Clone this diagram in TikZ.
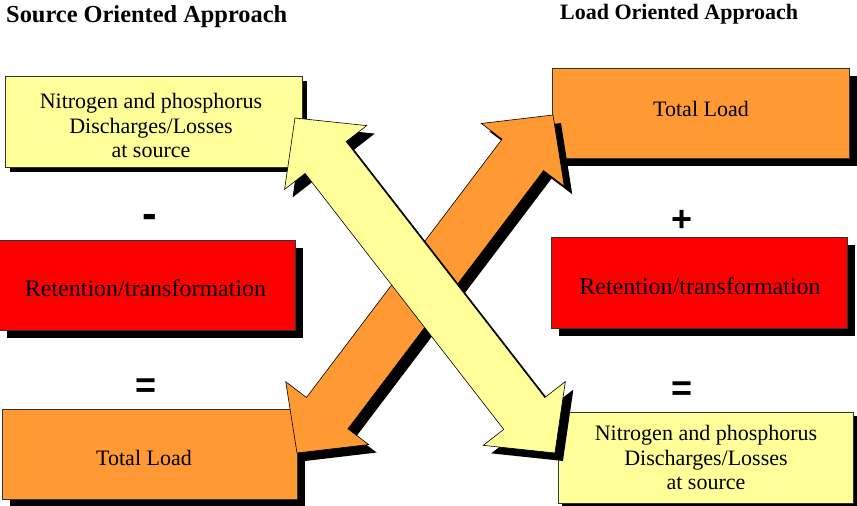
\documentclass[tikz,border=0pt]{standalone}
\usepackage{fontspec}
\setmainfont{Liberation Serif}
\newfontfamily\symfont{Liberation Sans}
\usetikzlibrary{shadows}
\definecolor{lyellow}{HTML}{FFFF99}
\definecolor{lorange}{HTML}{FF9933}
\definecolor{lred}{HTML}{FF0000}
\tikzset{
  box/.style={draw=black!80, line width=0.7pt, inner sep=0pt},
  shad/.style={drop shadow={shadow xshift=#1pt, shadow yshift=-#1pt, fill=black, opacity=1}},
  yellowbox/.style={box, fill=lyellow, shad=5},
  orangebox/.style={box, fill=lorange, shad=8},
  redbox/.style={box, fill=lred, shad=8},
  boxtext/.style={align=center, inner sep=0pt, font=\fontsize{22}{24.5}\selectfont},
  redtext/.style={boxtext, font=\fontsize{24}{27}\selectfont},
  title/.style={anchor=base west, inner sep=0pt, font=\bfseries},
  sym/.style={anchor=base, inner sep=0pt, font=\symfont\bfseries\fontsize{36}{36}\selectfont},
  arrline/.style={draw=black, line width=0.6pt}
}
\begin{document}
\begin{tikzpicture}[x=1pt,y=-1pt]
\useasboundingbox (0,0) rectangle (857,506);

% titles
\node[title, font=\bfseries\fontsize{24.4}{28}\selectfont] (t1) at (6,22) {Source Oriented Approach};
\node[title, font=\bfseries\fontsize{22}{26}\selectfont] (t2) at (560,19.5) {Load Oriented Approach};

% left column
\node[yellowbox, minimum width=297pt, minimum height=91pt] (ls) at (153.5,121.5) {};
\node[boxtext] (ls-t) at (151,125.5) {Nitrogen and phosphorus\\Discharges/Losses\\at source};
\node[redbox, minimum width=296pt, minimum height=90pt] (lr) at (147,285) {};
\node[redtext] (lr-t) at (145.5,288) {Retention/transformation};
\node[orangebox, minimum width=295pt, minimum height=90pt] (ll) at (149.5,454) {};
\node[boxtext] (ll-t) at (144,457.5) {Total Load};

% right column
\node[orangebox, minimum width=297pt, minimum height=90pt] (rl) at (700.5,113) {};
\node[boxtext] (rl-t) at (701,108.5) {Total Load};
\node[redbox, minimum width=296pt, minimum height=91pt] (rr) at (699,282.5) {};
\node[redtext] (rr-t) at (700,286) {Retention/transformation};
\node[yellowbox, shad=4, minimum width=295pt, minimum height=91pt] (rs) at (705.5,457.5) {};
\node[boxtext] (rs-t) at (706,457.5) {Nitrogen and phosphorus\\Discharges/Losses\\at source};

% operators
\node[sym, font=\symfont\bfseries\fontsize{44}{44}\selectfont] (minus) at (149.5,228) {-};
\node[sym] (eql) at (146,397) {=};
\node[sym] (plus) at (682,231) {+};
\node[sym] (eqr) at (682,400.5) {=};

% arrow end points
\coordinate (oA) at (297,453);
\coordinate (yA) at (295,118);

% orange double arrow
\begin{scope}[shift={(oA)}, shift={(8,8)}, rotate=52.86]
  \fill[black] (0,0) -- (50,52) -- (50,26) -- (374,26) -- (374,52)
     -- (424,0) -- (374,-52) -- (374,-26) -- (50,-26) -- (50,-52) -- cycle;
\end{scope}
\begin{scope}[shift={(oA)}, rotate=52.86]
  \path[fill=lorange, arrline] (0,0) -- (50,52) -- (50,26) -- (374,26) -- (374,52)
     -- (424,0) -- (374,-52) -- (374,-26) -- (50,-26) -- (50,-52) -- cycle;
\end{scope}

% yellow double arrow
\begin{scope}[shift={(yA)}, shift={(8,8)}, rotate=-52.19]
  \fill[black] (0,0) -- (50,52) -- (50,26) -- (374,26) -- (374,52)
     -- (424,0) -- (374,-52) -- (374,-26) -- (50,-26) -- (50,-52) -- cycle;
\end{scope}
\begin{scope}[shift={(yA)}, rotate=-52.19]
  \path[fill=lyellow, arrline] (0,0) -- (50,52) -- (50,26) -- (374,26) -- (374,52)
     -- (424,0) -- (374,-52) -- (374,-26) -- (50,-26) -- (50,-52) -- cycle;
\end{scope}
\end{tikzpicture}
\end{document}
